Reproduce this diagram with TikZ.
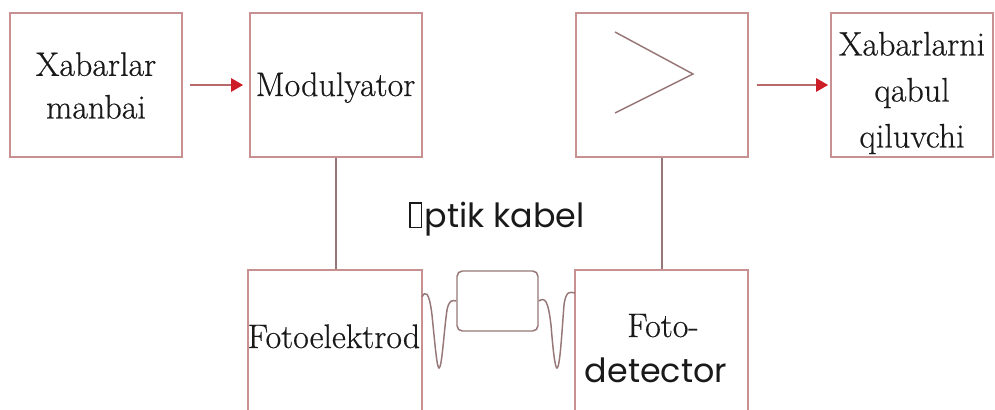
\documentclass[tikz,border=0pt]{standalone}
\usepackage{fontspec}
\newfontfamily\geo{Poppins}
\newfontfamily\heavy{Latin Modern Roman}[FakeBold=0.5]
\usetikzlibrary{arrows.meta}
\definecolor{boxcol}{RGB}{200,145,145}
\definecolor{linecol}{RGB}{150,118,118}
\definecolor{arrcol}{RGB}{185,105,105}
\definecolor{headcol}{RGB}{205,30,40}
\definecolor{txt}{RGB}{25,25,25}
\tikzset{
  blk/.style={draw=boxcol,line width=1.3pt,minimum height=108pt,inner sep=0pt},
  conn/.style={draw=linecol,line width=1.1pt},
  flow/.style={draw=arrcol,line width=1.1pt,-{Triangle[length=9pt,width=10pt,color=headcol]}},
  serif/.style={font=\heavy\fontsize{25.5}{32}\selectfont,text=txt,inner sep=0pt},
  sans/.style={font=\geo\fontsize{25}{30}\selectfont,text=txt,inner sep=0pt},
}
\begin{document}
\begin{tikzpicture}[x=0.75pt,y=-0.75pt]
\useasboundingbox (0,0) rectangle (995,410);
\clip (0,0) rectangle (995,410);
% top row boxes
\node[blk,minimum width=129pt] (src) at (96,85) {};
\node[blk,minimum width=129pt] (mod) at (336,85) {};
\node[blk,minimum width=129pt] (amp) at (662,85) {};
\node[blk,minimum width=121.5pt] (rcv) at (912,85) {};
% bottom boxes (extend below the picture)
\node[blk,minimum width=130.5pt,minimum height=127.5pt] (fel) at (335,355) {};
\node[blk,minimum width=129.75pt,minimum height=127.5pt] (fdt) at (661.5,355) {};
% small cable box
\node[draw=linecol,line width=1.1pt,rounded corners=4pt,minimum width=60.75pt,minimum height=45pt,inner sep=0pt] (cab) at (497.5,301) {};
% texts
\node[serif,align=center] (t1) at (96,85.5) {Xabarlar\\manbai};
\node[serif,anchor=base] (t2) at (335.5,96) {Modulyator};
\node[serif,align=center,font=\heavy\fontsize{25.5}{34.5}\selectfont] (t4) at (912,93) {Xabarlarni\\qabul\\qiluvchi};
\node[serif,anchor=base] (t5) at (334,348) {Fotoelektrod};
\node[serif,anchor=base] (t6a) at (663,337) {Foto-};
\node[sans,anchor=base] (t6b) at (656,382) {detector};
\node[sans,anchor=base] (t7) at (497,227) {{\setlength\fboxsep{0pt}\setlength\fboxrule{1pt}\fbox{\rule{0pt}{17.5pt}\hspace{7.5pt}}}\hspace{2pt}ptik kabel};
% amplifier chevron
\coordinate (c1) at (615,32);
\coordinate (c2) at (693,74);
\coordinate (c3) at (615,113);
\draw[conn,line join=miter] (c1) -- (c2) -- (c3);
% arrows
\draw[flow,shorten <=5pt,shorten >=4.5pt] (src.east) -- (mod.west);
\draw[flow,shorten <=6pt,shorten >=1.5pt] (amp.east) -- (rcv.west);
% vertical connectors
\draw[conn] (mod.south) -- (mod.south |- fel.north);
\draw[conn] (amp.south) -- (amp.south |- fdt.north);
% waves
\coordinate (w1) at (422,297);
\coordinate (w2) at (cab.west);
\coordinate (w3) at (cab.east);
\coordinate (w4) at (575,293);
\draw[conn] (w1) .. controls (425,291) and (429,290) .. (432,315)
  .. controls (435,345) and (437,368) .. (439,368)
  .. controls (442,368) and (444,330) .. (447,310)
  .. controls (449,300) and (452,300) .. (w2);
\draw[conn] (w3) .. controls (545,297) and (548,300) .. (551,325)
  .. controls (553,350) and (555,368) .. (557,368)
  .. controls (560,368) and (562,330) .. (564,305)
  .. controls (566,290) and (570,292) .. (w4);
\end{tikzpicture}
\end{document}
